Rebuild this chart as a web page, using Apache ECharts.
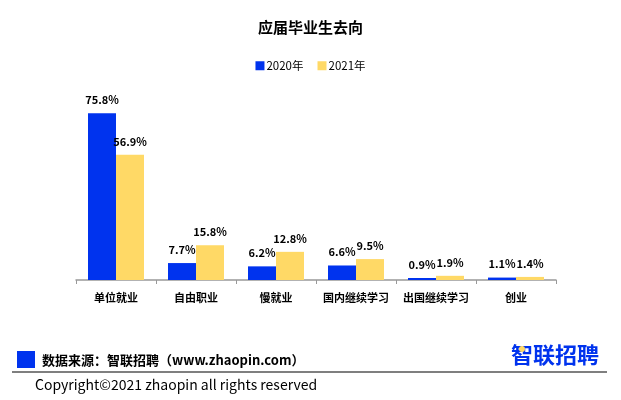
<!DOCTYPE html>
<html><head><meta charset="utf-8">
<script src="https://cdn.jsdelivr.net/npm/echarts@6/dist/echarts.min.js"></script>
<style>html,body{margin:0;padding:0;background:#fff}#c{width:621px;height:400px}</style>
</head><body><div id="c"></div>
<script>
const categories = ['单位就业','自由职业','慢就业','国内继续学习','出国继续学习','创业'];
const series2020 = [75.8, 7.7, 6.2, 6.6, 0.9, 1.1];
const series2021 = [56.9, 15.8, 12.8, 9.5, 1.9, 1.4];
const seriesNames = ['2020年','2021年'];
const FONT = '"Noto Sans CJK SC", "Noto Sans", sans-serif';
const chart = echarts.init(document.getElementById('c'), null, {renderer:'canvas'});
const lbl = {show:true, position:'top', distance:8, formatter: p => p.value + '%', color:'#000', fontWeight:'bold', fontSize:11, fontFamily:FONT};
chart.setOption({
  backgroundColor:'#fff',
  animation:false,
  title:{text:'应届毕业生去向', left:'center', top:15, textStyle:{fontSize:15, fontWeight:'bold', color:'#000', fontFamily:FONT}},
  legend:{top:55, left:'center', itemWidth:9, itemHeight:9, itemGap:14, icon:'rect', textStyle:{fontSize:11.5, color:'#000', fontFamily:FONT, padding:[0,0,0,-3]}, data:seriesNames},
  grid:{left:76, right:65, top:60, bottom:120},
  xAxis:{type:'category', data:categories, axisLine:{lineStyle:{color:'#999', width:1.5}}, axisTick:{show:true, length:4, lineStyle:{color:'#999'}}, axisLabel:{color:'#000', fontWeight:'bold', fontSize:11, fontFamily:FONT, margin:12, interval:0}},
  yAxis:{type:'value', min:0, max:100, show:false, splitLine:{show:false}},
  series:[
    {name:seriesNames[0], type:'bar', data:series2020, barGap:'0%', barCategoryGap:'30%', itemStyle:{color:'#0033EE'}, label:lbl},
    {name:seriesNames[1], type:'bar', data:series2021, itemStyle:{color:'#FFD966'}, label:lbl}
  ],
  graphic:[
    {type:'rect', shape:{x:17, y:351, width:18, height:17}, style:{fill:'#0033EE'}},
    {type:'text', x:42, y:360, style:{text:'数据来源：智联招聘（www.zhaopin.com）', fill:'#000', font:'bold 13px ' + FONT, textVerticalAlign:'middle'}},
    {type:'line', shape:{x1:12, y1:372, x2:607, y2:372}, style:{stroke:'#000', lineWidth:1.2}},
    {type:'text', x:35, y:385, style:{text:'Copyright©2021 zhaopin all rights reserved', fill:'#000', font:'14px ' + FONT, textVerticalAlign:'middle'}},
    {type:'text', x:511, y:355, style:{text:'智联招聘', fill:'#0033EE', font:'bold 22px ' + FONT, textVerticalAlign:'middle'}},
    {type:'circle', shape:{cx:522, cy:349, r:3}, style:{fill:'#FFD966'}}
  ]
});
</script></body></html>
